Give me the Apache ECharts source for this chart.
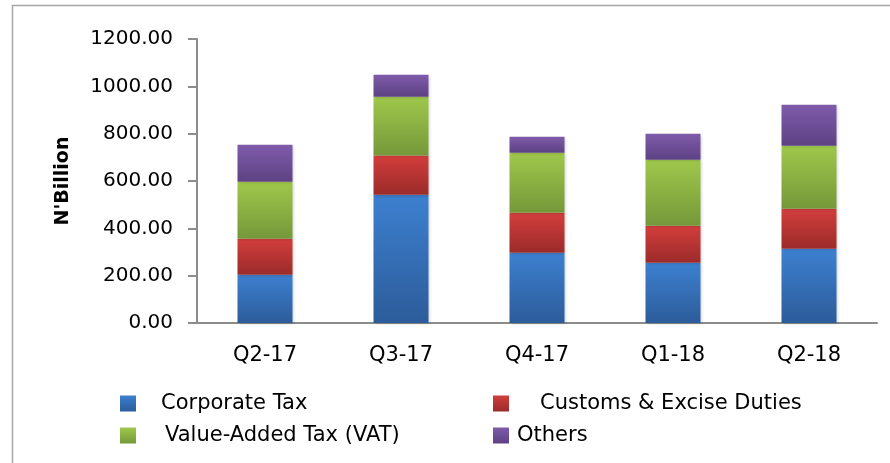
<!DOCTYPE html>
<html>
<head>
<meta charset="utf-8">
<title>Tax revenue by quarter</title>
<script src="https://cdn.jsdelivr.net/npm/echarts@6/dist/echarts.min.js"></script>
<style>
  html, body {
    margin: 0;
    padding: 0;
    background: #fff;
  }

  #chart {
    width: 890px;
    height: 463px;
  }
</style>
</head>
<body>
<div id="chart"></div>
<script>
// values, N'Billion
const quarters = ['Q2-17', 'Q3-17', 'Q4-17', 'Q1-18', 'Q2-18']
const corporateTax = [204, 542, 297, 255, 314]
const customsDuties = [152, 166, 169, 156, 169]
const vat = [241, 248, 253, 279, 266]
const others = [156, 93, 68, 110, 173]
const yTicks = { min: 0, max: 1200, interval: 200 }

const seriesNames = ['Corporate Tax', 'Customs & Excise Duties', 'Value-Added Tax (VAT)', 'Others']

const fontFamily = 'DejaVu Sans'
const axisColor = '#8c8c8c'

function barGradient(top, bottom) {
  return new echarts.graphic.LinearGradient(0, 0, 0, 1, [
    { offset: 0, color: top },
    { offset: 1, color: bottom }
  ])
}

function makeSeries(name, data, top, bottom) {
  return {
    name: name,
    type: 'bar',
    stack: 'total',
    barWidth: 55,
    data: data,
    itemStyle: {
      color: barGradient(top, bottom),
      shadowBlur: 3,
      shadowOffsetX: 1,
      shadowOffsetY: 1,
      shadowColor: 'rgba(0, 0, 0, 0.18)'
    },
    emphasis: { disabled: true }
  }
}

function makeLegend(name, left, top, gap) {
  return {
    data: [{ name: name, icon: 'rect' }],
    left: left,
    top: top,
    padding: 0,
    itemWidth: 16,
    itemHeight: 16,
    selectedMode: false,
    textStyle: {
      fontFamily: fontFamily,
      fontSize: 21,
      color: '#000',
      lineHeight: 16,
      padding: [0, 0, 0, gap]
    }
  }
}

const chart = echarts.init(document.getElementById('chart'))

chart.setOption({
  backgroundColor: '#fff',
  animation: false,
  graphic: [
    {
      type: 'rect',
      shape: { x: 12.5, y: 5.5, width: 1000, height: 600 },
      style: { fill: 'none', stroke: '#a6a6a6', lineWidth: 1.5 },
      silent: true
    }
  ],
  grid: {
    left: 197,
    right: 13,
    top: 39,
    bottom: 140
  },
  legend: [
    makeLegend(seriesNames[0], 120, 393, 20),
    makeLegend(seriesNames[1], 493, 393, 26),
    makeLegend(seriesNames[2], 120, 425, 24),
    makeLegend(seriesNames[3], 493, 425, 3)
  ],
  xAxis: {
    type: 'category',
    data: quarters,
    axisLine: { lineStyle: { color: axisColor, width: 2 } },
    axisTick: { length: 8, lineStyle: { color: axisColor, width: 2 } },
    axisLabel: {
      margin: 22,
      fontFamily: fontFamily,
      fontSize: 21,
      color: '#000'
    }
  },
  yAxis: {
    type: 'value',
    min: yTicks.min,
    max: yTicks.max,
    interval: yTicks.interval,
    name: "N'Billion",
    nameLocation: 'middle',
    nameRotate: 90,
    nameGap: 124,
    nameTextStyle: {
      fontFamily: fontFamily,
      fontSize: 19,
      fontWeight: 'bold',
      color: '#000'
    },
    splitLine: { show: false },
    axisLine: { show: true, lineStyle: { color: axisColor, width: 2 } },
    axisTick: { show: true, length: 9, lineStyle: { color: axisColor, width: 2 } },
    axisLabel: {
      margin: 24,
      fontFamily: fontFamily,
      fontSize: 20,
      color: '#000',
      formatter: (value) => value.toFixed(2)
    }
  },
  series: [
    makeSeries(seriesNames[0], corporateTax, '#3d80d0', '#2c5c9a'),
    makeSeries(seriesNames[1], customsDuties, '#d23e3c', '#9b2b2a'),
    makeSeries(seriesNames[2], vat, '#9fc84b', '#75983a'),
    makeSeries(seriesNames[3], others, '#7f5bab', '#5d4283')
  ]
})
</script>
</body>
</html>
